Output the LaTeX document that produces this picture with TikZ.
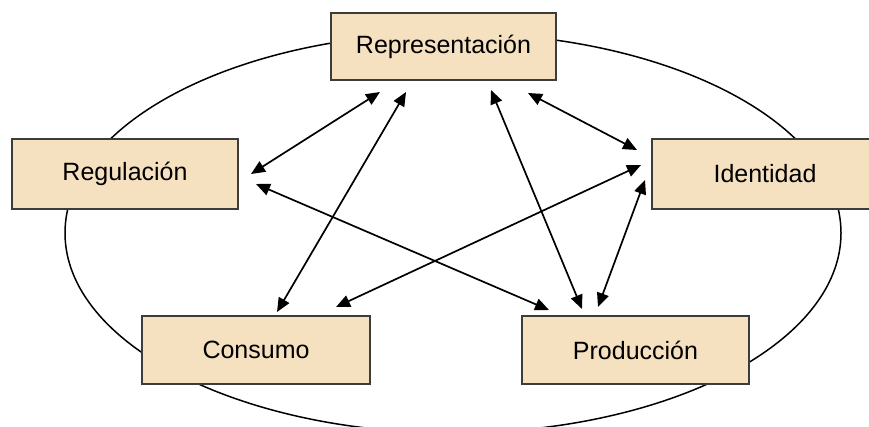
\documentclass[tikz,border=0pt]{standalone}
\usepackage{fontspec}
\setmainfont{Liberation Sans}
\usetikzlibrary{arrows.meta}
\definecolor{boxfill}{RGB}{245,224,192}
\definecolor{boxline}{RGB}{60,60,60}
\begin{document}
\begin{tikzpicture}[x=1pt,y=-1pt,
  conceptbox/.style={draw=boxline, line width=1.3pt, fill=boxfill, minimum width=226pt, minimum height=68pt, inner sep=0pt, font=\fontsize{25}{30}\selectfont},
  link/.style={line width=1.7pt, {Triangle[length=14pt,width=12pt]}-{Triangle[length=14pt,width=12pt]}}]
\clip (0,0) rectangle (869,426);
\fill[white] (0,0) rectangle (869,426);
\draw[line width=1.5pt] (453,233) ellipse [x radius=388, y radius=200];
\node[conceptbox, minimum width=225pt, minimum height=67pt] (rep) at (443.5,46.5) {Representación};
\node[conceptbox, minimum height=70pt] (reg) at (125,174) {Regulación};
\node[conceptbox, minimum height=70pt] (ide) at (765,174) {Identidad};
\node[conceptbox, minimum width=228pt] (con) at (256,350) {Consumo};
\node[conceptbox, minimum width=227pt] (pro) at (635.5,350) {Producción};
% arrow end points
\coordinate (a1s) at (251,174); \coordinate (a1e) at (380,92);
\coordinate (a2s) at (277,312); \coordinate (a2e) at (406,92);
\coordinate (a3s) at (256,184); \coordinate (a3e) at (549,310);
\coordinate (a4s) at (336,307); \coordinate (a4e) at (641,165);
\coordinate (a5s) at (491,90);  \coordinate (a5e) at (582,309);
\coordinate (a6s) at (528,93);  \coordinate (a6e) at (637,150);
\coordinate (a7s) at (645,180); \coordinate (a7e) at (598,307);
\draw[link] (a1s) -- (a1e);
\draw[link] (a2s) -- (a2e);
\draw[link] (a3s) -- (a3e);
\draw[link] (a4s) -- (a4e);
\draw[link] (a5s) -- (a5e);
\draw[link] (a6s) -- (a6e);
\draw[link] (a7s) -- (a7e);
\end{tikzpicture}
\end{document}
